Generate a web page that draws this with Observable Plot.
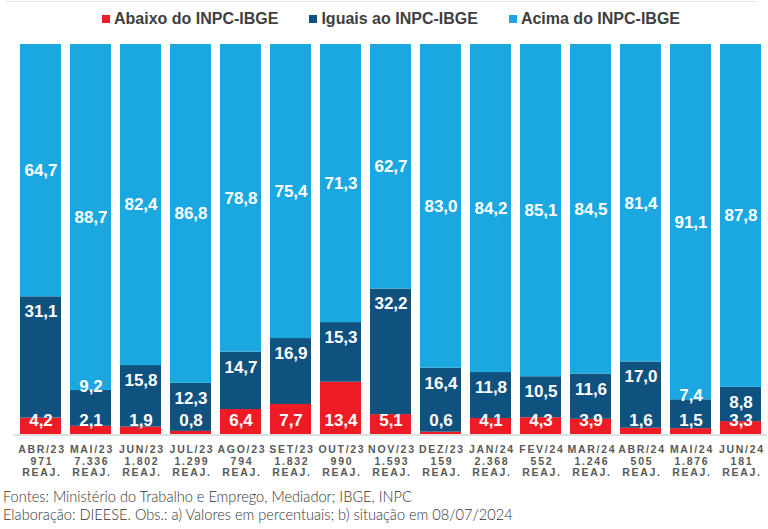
<!DOCTYPE html>
<html><head><meta charset="utf-8">
<script src="https://cdn.jsdelivr.net/npm/d3@7"></script>
<script src="https://cdn.jsdelivr.net/npm/@observablehq/plot@0.6"></script>
<style>
body{margin:0;background:#fff;font-family:"Liberation Sans",Arial,sans-serif;}
#wrap{position:relative;width:768px;height:529px;overflow:hidden;background:#fff}
#topline{position:absolute;left:5px;top:1px;width:752px;height:1px;background:#e2e7ec}
#legend{position:absolute;left:0;top:9px;width:768px;display:flex;justify-content:center;gap:31px;font-weight:bold;font-size:16px;color:#404040;padding-left:14px;box-sizing:border-box;line-height:20px}
.item{display:flex;align-items:center}
.sw{width:8px;height:8px;margin-right:4px;}
#chart{position:absolute;left:0;top:0}
#footer{position:absolute;left:3px;top:488px;font-family:Lato,"Open Sans",sans-serif;font-weight:300;font-size:14.6px;line-height:18px;color:#333;white-space:nowrap}
.xlab text{letter-spacing:1.7px}
</style>
</head><body>
<div id="wrap">
  <div id="topline"></div>
  <div id="chart"></div>
  <div id="legend"></div>
  <div id="footer"></div>
</div>
<script>
const months = ["ABR/23","MAI/23","JUN/23","JUL/23","AGO/23","SET/23","OUT/23","NOV/23","DEZ/23","JAN/24","FEV/24","MAR/24","ABR/24","MAI/24","JUN/24"];
const reaj = ["971","7.336","1.802","1.299","794","1.832","990","1.593","159","2.368","552","1.246","505","1.876","181"];
const abaixo = [4.2,2.1,1.9,0.8,6.4,7.7,13.4,5.1,0.6,4.1,4.3,3.9,1.6,1.5,3.3];
const iguais = [31.1,9.2,15.8,12.3,14.7,16.9,15.3,32.2,16.4,11.8,10.5,11.6,17.0,7.4,8.8];
const acima = [64.7,88.7,82.4,86.8,78.8,75.4,71.3,62.7,83.0,84.2,85.1,84.5,81.4,91.1,87.8];
const series = ["Abaixo do INPC-IBGE","Iguais ao INPC-IBGE","Acima do INPC-IBGE"];
const colors = ["#ed1c24","#0f5280","#1ba8e0"];
const footerLines = ["Fontes: Ministério do Trabalho e Emprego, Mediador; IBGE, INPC","Elaboração: DIEESE. Obs.: a) Valores em percentuais; b) situação em 08/07/2024"];

const seriesVals = [abaixo, iguais, acima];
const rows = [];
months.forEach((m, i) => series.forEach((s, k) => rows.push({month: m, series: s, value: seriesVals[k][i]})));

const fmt = v => v.toFixed(1).replace(".", ",");
const totals = months.map((m, i) => abaixo[i] + iguais[i] + acima[i]);
const lab = months.map((m, i) => {
  const t = totals[i];
  const mid = (abaixo[i] + iguais[i]) / t;
  return {month: m, i, ab: abaixo[i], ig: iguais[i], ac: acima[i], top2: mid, mid3: (mid + 1) / 2, crowded: (abaixo[i] + iguais[i]) < 11.8};
});

const tOpts = {fill: "white", fontSize: 17, fontWeight: "bold"};

const chart = Plot.plot({
  width: 768, height: 482,
  marginTop: 44, marginBottom: 48, marginLeft: 13, marginRight: 1,
  style: {fontFamily: "'Liberation Sans', Arial, sans-serif", background: "transparent"},
  x: {domain: months, paddingInner: 0.185, paddingOuter: 0.0925, axis: null},
  y: {domain: [0, 1], axis: null},
  color: {domain: series, range: colors},
  marks: [
    Plot.barY(rows, Plot.stackY({x: "month", y: "value", fill: "series", order: series, offset: "normalize"})),
    Plot.ruleY([0], {stroke: "#d4d4d4", strokeWidth: 1.5, dy: 0.5}),
    Plot.text(lab, {x: "month", y: 0, text: d => fmt(d.ab), dy: -14, ...tOpts}),
    Plot.text(lab.filter(d => !d.crowded), {x: "month", y: "top2", text: d => fmt(d.ig), dy: 15, ...tOpts}),
    Plot.text(lab.filter(d => d.crowded), {x: "month", y: "top2", text: d => fmt(d.ig), dy: -4, ...tOpts}),
    Plot.text(lab, {x: "month", y: "mid3", text: d => fmt(d.ac), ...tOpts}),
    Plot.text(lab, {x: "month", frameAnchor: "bottom", text: d => `${d.month}\n${reaj[d.i]}\nREAJ.`,
      lineAnchor: "top", dy: 10.5, dx: 0.9, lineHeight: 1.1, fontSize: 10.5, fontWeight: "bold", fill: "#595959", className: "xlab"})
  ]
});
document.getElementById("chart").appendChild(chart);

const leg = document.getElementById("legend");
series.forEach((s, k) => {
  const it = document.createElement("div"); it.className = "item";
  const sw = document.createElement("span"); sw.className = "sw"; sw.style.background = colors[k];
  const tx = document.createElement("span"); tx.textContent = s;
  it.appendChild(sw); it.appendChild(tx); leg.appendChild(it);
});
const ft = document.getElementById("footer");
footerLines.forEach(l => { const d = document.createElement("div"); d.textContent = l; ft.appendChild(d); });
</script>
</body></html>
